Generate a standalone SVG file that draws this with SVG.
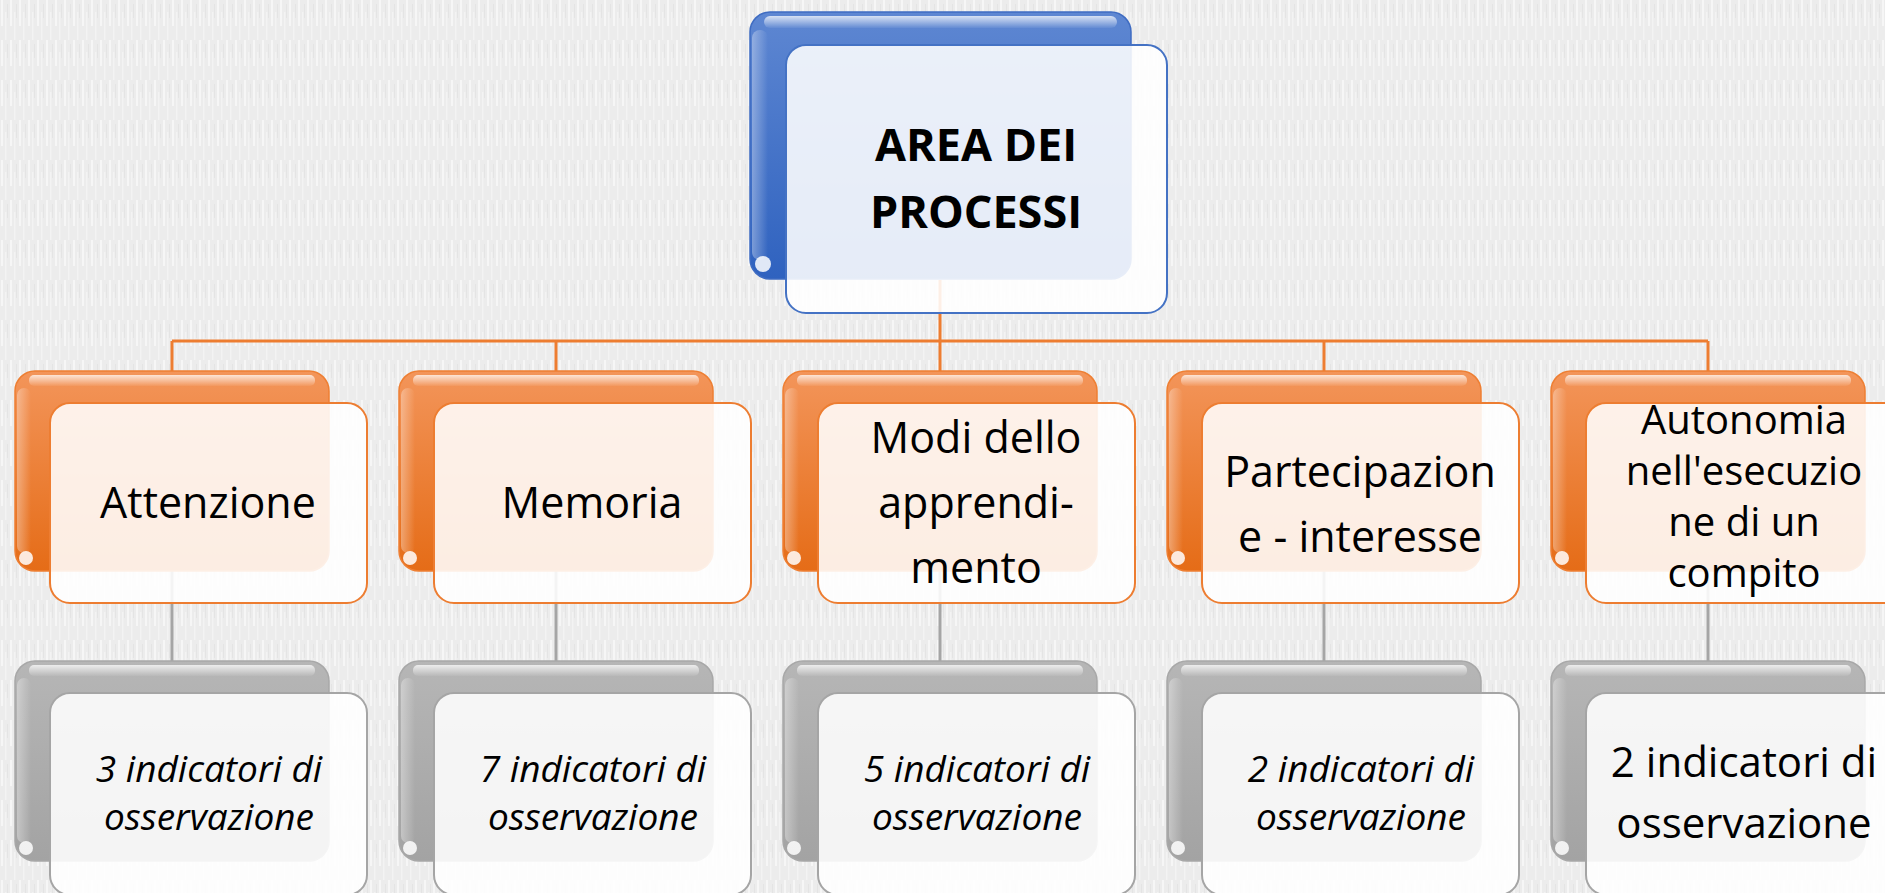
<svg xmlns="http://www.w3.org/2000/svg" width="1885" height="893" viewBox="0 0 1885 893">
<defs>
<pattern id="tex" width="9" height="40" patternUnits="userSpaceOnUse">
<rect width="9" height="40" fill="#ECECEC"/>
<rect x="1" y="0" width="2" height="26" fill="#F6F6F6"/>
<rect x="5" y="12" width="1.5" height="28" fill="#F3F3F3"/>
<rect x="7" y="4" width="1" height="14" fill="#E4E4E4"/>
</pattern>
<linearGradient id="gOrange" x1="0" y1="0" x2="0" y2="1">
<stop offset="0" stop-color="#F3955A"/>
<stop offset="1" stop-color="#E56C17"/>
</linearGradient>
<linearGradient id="gBlue" x1="0" y1="0" x2="0" y2="1">
<stop offset="0" stop-color="#5E87D2"/>
<stop offset="1" stop-color="#2F62BF"/>
</linearGradient>
<linearGradient id="gGray" x1="0" y1="0" x2="0" y2="1">
<stop offset="0" stop-color="#B6B6B6"/>
<stop offset="1" stop-color="#A3A3A3"/>
</linearGradient>
<linearGradient id="gShine" x1="0" y1="0" x2="0" y2="1">
<stop offset="0" stop-color="#FFFFFF" stop-opacity="0.75"/>
<stop offset="1" stop-color="#FFFFFF" stop-opacity="0.05"/>
</linearGradient>
<linearGradient id="gEdge" x1="0" y1="0" x2="1" y2="0">
<stop offset="0" stop-color="#FFFFFF" stop-opacity="0.35"/>
<stop offset="1" stop-color="#FFFFFF" stop-opacity="0"/>
</linearGradient>
</defs>
<style>
.bo{fill:url(#gOrange);stroke:#EE7F33;stroke-width:1.5}
.bb{fill:url(#gBlue);stroke:#3F6CC2;stroke-width:1.5}
.bg{fill:url(#gGray);stroke:#A8A8A8;stroke-width:1.5}
.shine{fill:url(#gShine)}
.edge{fill:url(#gEdge)}
.spot{fill:#FFFFFF;opacity:0.85}
.fo{fill:#FFFFFF;fill-opacity:0.88;stroke:#ED7D31;stroke-width:2}
.fb{fill:#FFFFFF;fill-opacity:0.88;stroke:#4472C4;stroke-width:2}
.fg{fill:#FFFFFF;fill-opacity:0.88;stroke:#A5A5A5;stroke-width:2}
.t{font-family:"Open Sans","Noto Sans","DejaVu Sans",sans-serif;fill:#000;text-anchor:middle}
.t1{font-size:43px}
.t1s{font-size:40px}
.t2{font-size:42px}
.ti{font-size:37px;font-style:italic}
.tb{font-size:45px;font-weight:bold}
.co{fill:none;stroke:#ED7D31;stroke-width:3}
.cg{fill:none;stroke:#A5A5A5;stroke-width:3}
</style>
<rect width="1885" height="893" fill="url(#tex)"/>

<g id="connectors">
<path class="co" d="M940 280 V341 M172 341 H1708 M172 341 V371 M556 341 V371 M940 341 V371 M1324 341 V371 M1708 341 V371"/>
<path class="cg" d="M172 571 V661 M556 571 V661 M940 571 V661 M1324 571 V661 M1708 571 V661"/>
</g>

<g id="n-root">
<rect class="bb" x="750" y="12" width="381" height="267" rx="20"/>
<rect class="edge" x="752" y="30" width="16" height="230" rx="8"/>
<rect class="shine" x="764" y="16" width="353" height="12" rx="6"/>
<circle class="spot" cx="763" cy="264" r="8"/>
<rect class="fb" x="786" y="45" width="381" height="268" rx="20"/>
<text class="t tb" x="976" y="161">AREA DEI</text>
<text class="t tb" x="976" y="228">PROCESSI</text>
</g>

<g id="n-attenzione">
<rect class="bo" x="15" y="371" width="314" height="200" rx="20"/>
<rect class="edge" x="17" y="388" width="14" height="165" rx="7"/>
<rect class="shine" x="29" y="375" width="286" height="11" rx="5"/>
<circle class="spot" cx="26" cy="558" r="7"/>
<rect class="fo" x="50" y="403" width="317" height="200" rx="20"/>
<text class="t t1" x="208" y="518">Attenzione</text>
</g>

<g id="n-memoria">
<rect class="bo" x="399" y="371" width="314" height="200" rx="20"/>
<rect class="edge" x="401" y="388" width="14" height="165" rx="7"/>
<rect class="shine" x="413" y="375" width="286" height="11" rx="5"/>
<circle class="spot" cx="410" cy="558" r="7"/>
<rect class="fo" x="434" y="403" width="317" height="200" rx="20"/>
<text class="t t1" x="592" y="518">Memoria</text>
</g>

<g id="n-modi">
<rect class="bo" x="783" y="371" width="314" height="200" rx="20"/>
<rect class="edge" x="785" y="388" width="14" height="165" rx="7"/>
<rect class="shine" x="797" y="375" width="286" height="11" rx="5"/>
<circle class="spot" cx="794" cy="558" r="7"/>
<rect class="fo" x="818" y="403" width="317" height="200" rx="20"/>
<text class="t t1" x="976" y="453">Modi dello</text>
<text class="t t1" x="976" y="518">apprendi-</text>
<text class="t t1" x="976" y="583">mento</text>
</g>

<g id="n-partecipazione">
<rect class="bo" x="1167" y="371" width="314" height="200" rx="20"/>
<rect class="edge" x="1169" y="388" width="14" height="165" rx="7"/>
<rect class="shine" x="1181" y="375" width="286" height="11" rx="5"/>
<circle class="spot" cx="1178" cy="558" r="7"/>
<rect class="fo" x="1202" y="403" width="317" height="200" rx="20"/>
<text class="t t1" x="1360" y="487">Partecipazion</text>
<text class="t t1" x="1360" y="552">e - interesse</text>
</g>

<g id="n-autonomia">
<rect class="bo" x="1551" y="371" width="314" height="200" rx="20"/>
<rect class="edge" x="1553" y="388" width="14" height="165" rx="7"/>
<rect class="shine" x="1565" y="375" width="286" height="11" rx="5"/>
<circle class="spot" cx="1562" cy="558" r="7"/>
<rect class="fo" x="1586" y="403" width="317" height="200" rx="20"/>
<text class="t t1s" x="1744" y="434">Autonomia</text>
<text class="t t1s" x="1744" y="485">nell'esecuzio</text>
<text class="t t1s" x="1744" y="536">ne di un</text>
<text class="t t1s" x="1744" y="587">compito</text>
</g>

<g id="n-ind1">
<rect class="bg" x="15" y="661" width="314" height="200" rx="20"/>
<rect class="edge" x="17" y="678" width="14" height="165" rx="7"/>
<rect class="shine" x="29" y="665" width="286" height="11" rx="5"/>
<circle class="spot" cx="26" cy="848" r="7"/>
<rect class="fg" x="50" y="693" width="317" height="202" rx="20"/>
<text class="t ti" x="209" y="782">3 indicatori di</text>
<text class="t ti" x="209" y="830">osservazione</text>
</g>

<g id="n-ind2">
<rect class="bg" x="399" y="661" width="314" height="200" rx="20"/>
<rect class="edge" x="401" y="678" width="14" height="165" rx="7"/>
<rect class="shine" x="413" y="665" width="286" height="11" rx="5"/>
<circle class="spot" cx="410" cy="848" r="7"/>
<rect class="fg" x="434" y="693" width="317" height="202" rx="20"/>
<text class="t ti" x="593" y="782">7 indicatori di</text>
<text class="t ti" x="593" y="830">osservazione</text>
</g>

<g id="n-ind3">
<rect class="bg" x="783" y="661" width="314" height="200" rx="20"/>
<rect class="edge" x="785" y="678" width="14" height="165" rx="7"/>
<rect class="shine" x="797" y="665" width="286" height="11" rx="5"/>
<circle class="spot" cx="794" cy="848" r="7"/>
<rect class="fg" x="818" y="693" width="317" height="202" rx="20"/>
<text class="t ti" x="977" y="782">5 indicatori di</text>
<text class="t ti" x="977" y="830">osservazione</text>
</g>

<g id="n-ind4">
<rect class="bg" x="1167" y="661" width="314" height="200" rx="20"/>
<rect class="edge" x="1169" y="678" width="14" height="165" rx="7"/>
<rect class="shine" x="1181" y="665" width="286" height="11" rx="5"/>
<circle class="spot" cx="1178" cy="848" r="7"/>
<rect class="fg" x="1202" y="693" width="317" height="202" rx="20"/>
<text class="t ti" x="1361" y="782">2 indicatori di</text>
<text class="t ti" x="1361" y="830">osservazione</text>
</g>

<g id="n-ind5">
<rect class="bg" x="1551" y="661" width="314" height="200" rx="20"/>
<rect class="edge" x="1553" y="678" width="14" height="165" rx="7"/>
<rect class="shine" x="1565" y="665" width="286" height="11" rx="5"/>
<circle class="spot" cx="1562" cy="848" r="7"/>
<rect class="fg" x="1586" y="693" width="317" height="202" rx="20"/>
<text class="t t2" x="1744" y="777">2 indicatori di</text>
<text class="t t2" x="1744" y="838">osservazione</text>
</g>
</svg>
